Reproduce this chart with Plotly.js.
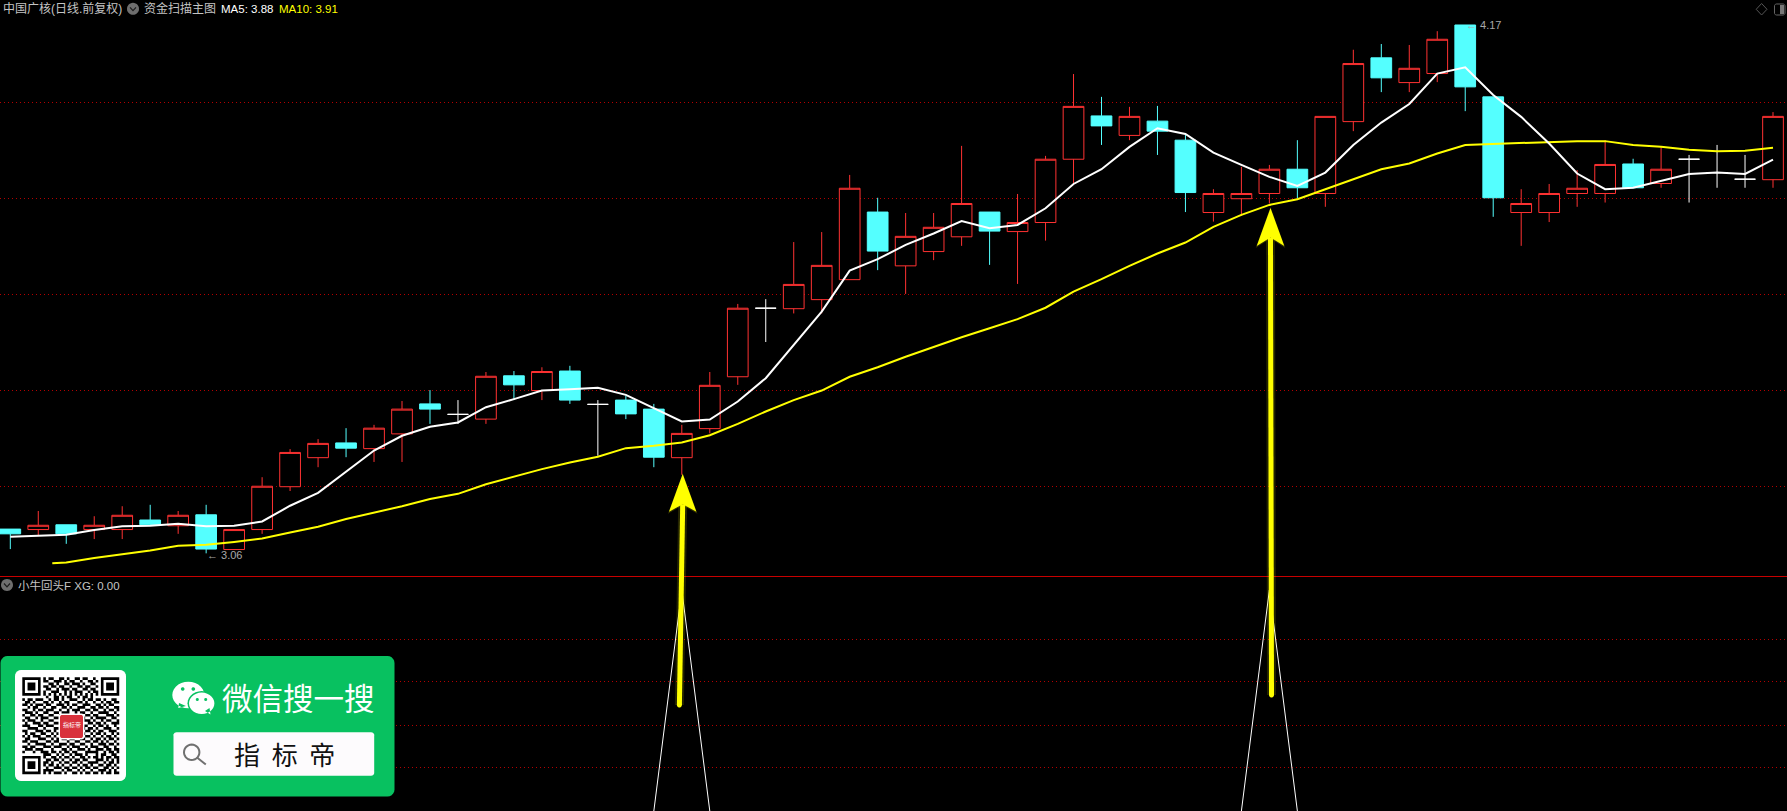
<!DOCTYPE html>
<html><head><meta charset="utf-8">
<script src="https://cdn.plot.ly/plotly-3.0.1.min.js"></script>
<style>html,body{margin:0;padding:0;background:#000;overflow:hidden}</style>
</head><body><div id="chart" style="width:1787px;height:811px"></div>
<script>
const openP = [3.111,3.110,3.120,3.110,3.110,3.130,3.118,3.141,3.068,3.110,3.200,3.261,3.292,3.280,3.311,3.374,3.352,3.342,3.433,3.402,3.443,3.373,3.382,3.363,3.261,3.322,3.431,3.575,3.574,3.593,3.635,3.777,3.664,3.694,3.725,3.777,3.736,3.755,3.888,3.979,3.938,3.968,3.928,3.776,3.805,3.816,3.867,3.816,3.967,4.101,4.049,4.068,4.170,4.019,3.776,3.776,3.816,3.816,3.878,3.837,3.888,3.860,3.846,3.845];
const closeP = [3.101,3.119,3.101,3.119,3.140,3.120,3.140,3.069,3.110,3.201,3.272,3.291,3.281,3.323,3.363,3.363,3.352,3.432,3.414,3.442,3.382,3.373,3.353,3.262,3.312,3.413,3.575,3.575,3.625,3.665,3.827,3.695,3.726,3.745,3.795,3.737,3.755,3.888,3.999,3.958,3.978,3.947,3.818,3.816,3.816,3.867,3.828,3.978,4.089,4.059,4.079,4.140,4.040,3.807,3.795,3.816,3.827,3.877,3.828,3.867,3.888,3.860,3.846,3.978];
const highP = [3.111,3.149,3.120,3.138,3.159,3.162,3.149,3.162,3.110,3.220,3.279,3.300,3.323,3.330,3.380,3.403,3.382,3.441,3.443,3.451,3.454,3.382,3.391,3.374,3.330,3.441,3.584,3.594,3.714,3.735,3.855,3.807,3.775,3.775,3.916,3.777,3.815,3.895,4.067,4.019,3.998,4.000,3.939,3.825,3.872,3.876,3.928,3.978,4.118,4.130,4.128,4.157,4.170,4.019,3.825,3.836,3.865,3.928,3.889,3.914,3.897,3.918,3.897,3.987];
const lowP = [3.069,3.098,3.080,3.090,3.090,3.120,3.101,3.060,3.068,3.101,3.191,3.241,3.262,3.252,3.252,3.332,3.332,3.332,3.382,3.382,3.374,3.265,3.342,3.241,3.225,3.312,3.414,3.504,3.564,3.564,3.635,3.655,3.605,3.676,3.706,3.666,3.626,3.717,3.837,3.918,3.928,3.897,3.777,3.757,3.769,3.795,3.806,3.788,3.947,4.029,4.029,4.050,3.989,3.767,3.706,3.756,3.788,3.797,3.828,3.828,3.797,3.828,3.828,3.828];
const ma5 = [3.095,3.097,3.099,3.109,3.117,3.118,3.122,3.117,3.118,3.127,3.160,3.187,3.232,3.276,3.307,3.326,3.335,3.367,3.384,3.402,3.405,3.408,3.393,3.365,3.337,3.341,3.379,3.428,3.498,3.568,3.654,3.678,3.708,3.732,3.758,3.743,3.750,3.785,3.836,3.867,3.914,3.953,3.941,3.902,3.876,3.851,3.832,3.860,3.918,3.965,4.004,4.068,4.081,4.023,3.977,3.921,3.858,3.825,3.828,3.842,3.857,3.860,3.857,3.887];
const ma10X = [1.5,2,3,4,5,6,7,8,9,10,11,12,13,14,15,16,17,18,19,20,21,22,23,24,25,26,27,28,29,30,31,32,33,34,35,36,37,38,39,40,41,42,43,44,45,46,47,48,49,50,51,52,53,54,55,56,57,58,59,60,61,62,63];
const ma10 = [3.039,3.041,3.050,3.058,3.066,3.076,3.078,3.084,3.091,3.104,3.116,3.132,3.145,3.159,3.174,3.185,3.205,3.221,3.237,3.251,3.263,3.281,3.286,3.293,3.308,3.332,3.358,3.382,3.402,3.431,3.451,3.473,3.494,3.514,3.533,3.552,3.576,3.610,3.636,3.664,3.690,3.713,3.746,3.771,3.792,3.804,3.825,3.846,3.867,3.879,3.900,3.918,3.920,3.921,3.924,3.926,3.926,3.918,3.914,3.908,3.905,3.906,3.912];
const xgX = [23,24,25,null,44,45,46];
const xgY = [0,1,0,null,0,1,0];
const priceGrid = [4.008,3.806,3.604,3.403,3.201];
const xgGrid = [0.195,0.389,0.584,0.778];
const priceRange = [3.01242,4.2225];
const xgRange = [0,1.063];
const idxRange = [-0.368,63.5];
const qrRows = [
"1111111010110011010011011001001111111",
"1000001011001110101100100110101000001",
"1011101000110100110111010011001011101",
"1011101011011011001001101100101011101",
"1011101001100101110110011011001011101",
"1000001010011100101011100101101000001",
"1111111010101010101010101010101111111",
"0000000001001101011001011010000000000",
"1011011100101101001110010110110100110",
"0110100011010010110001101001001011011",
"1101011101100111010110011100110101100",
"0010110010011001101001110011011010011",
"1100101101110010010111001101100101101",
"0111010011001101110010110010011110010",
"1001101100110010001101001101100011101",
"0110010111001101000000010010111100110",
"1011100100110010000000011101001011001",
"0100111011001100000000000110110100111",
"1110001101110010000000011001011010010",
"0011110010001100000000010110100111001",
"1100011101101010000000001101011001110",
"0101100110010110000000110010110100101",
"1010111001101011000011001101001011010",
"0110001110010101101100110010110101101",
"1101110001101100010011001101101010010",
"0010011110010011101100110010011101101",
"1101100011101110010111001011100110010",
"0111011100010001101001110100111011011",
"1000100111011010110110001111100101101",
"0000000011100101001011101000101100110",
"1111111010011010110100110101101011011",
"1000001001101101001011011000111010101",
"1011101011010010110110100111100101101",
"1011101010110101001001011010011011010",
"1011101001001110110110101101100110101",
"1000001011110001011001010010011101010",
"1111111010101110100110101101101011011"];

const W = 1787, H = 811;
const px = v => v / W, py = v => 1 - v / H;
const P = (x, y) => px(x).toFixed(6) + ',' + py(y).toFixed(6);
const poly = pts => 'M' + pts.map(p => P(p[0], p[1])).join('L') + 'Z';
function rr(x0, y0, x1, y1, r) {
  const n = 5, out = [];
  const corners = [[x1 - r, y0 + r, -90], [x1 - r, y1 - r, 0], [x0 + r, y1 - r, 90], [x0 + r, y0 + r, 180]];
  corners.forEach(c => { for (let k = 0; k <= n; k++) { const a = (c[2] + 90 * k / n) * Math.PI / 180; out.push([c[0] + r * Math.cos(a), c[1] + r * Math.sin(a)]); } });
  return poly(out);
}
function ell(cx, cy, rxx, ryy) {
  const out = [];
  for (let k = 0; k < 28; k++) { const a = k / 28 * 2 * Math.PI; out.push([cx + rxx * Math.cos(a), cy + ryy * Math.sin(a)]); }
  return poly(out);
}
const fillS = (path, color, extra) => Object.assign({type: 'path', xref: 'paper', yref: 'paper', layer: 'above', path, fillcolor: color, line: {width: 0}}, extra || {});
const lineS = (x0, y0, x1, y1, color, width) => ({type: 'line', xref: 'paper', yref: 'paper', layer: 'above', x0: px(x0), y0: py(y0), x1: px(x1), y1: py(y1), line: {color, width}});

const shapes = [];
shapes.push(lineS(0, 576.5, W, 576.5, '#c80000', 1));

function arrow(tx, ty, bx, by, hw, baseY, notchY) {
  shapes.push(lineS(tx, notchY, bx, by, 'rgba(255,255,0,0.14)', 9));
  shapes.push(fillS(poly([[tx, ty - 1], [tx + hw + 1, baseY + 2], [tx, notchY + 1], [tx - hw - 1, baseY + 2]]), 'rgba(255,255,0,0.18)'));
  shapes.push(lineS(tx, notchY, bx, by, '#ffff00', 5));
  shapes.push(fillS(ell(bx, by, 2.5, 2.5), '#ffff00'));
  shapes.push(fillS(poly([[tx, ty], [tx + hw, baseY], [tx, notchY], [tx - hw, baseY]]), '#ffff00'));
}
arrow(682.7, 474, 679.4, 705, 13.7, 511.7, 504.3);
arrow(1270.5, 208, 1271.5, 695, 13.8, 246, 237.5);

// card
shapes.push(fillS(rr(0.5, 656, 394.5, 796.5, 7), '#08c160'));
shapes.push(fillS(rr(15, 670, 126, 781, 6), '#ffffff'));
const cell = 2.62, qx = 22.3, qy = 677.3;
let qrPath = '';
qrRows.forEach((row, r) => {
  let c = 0;
  while (c < row.length) {
    if (row[c] === '1') {
      let e = c;
      while (e + 1 < row.length && row[e + 1] === '1') e++;
      const x0 = qx + c * cell, x1 = qx + (e + 1) * cell, y0 = qy + r * cell, y1 = qy + (r + 1) * cell;
      qrPath += poly([[x0, y0], [x1, y0], [x1, y1], [x0, y1]]);
      c = e + 1;
    } else c++;
  }
});
shapes.push(fillS(qrPath, '#000000'));
shapes.push(fillS(rr(58.5, 713.5, 84.5, 739.5, 3), '#ffffff'));
shapes.push(fillS(rr(60, 715, 83, 738, 2), '#d9323c'));

// wechat icon
shapes.push(fillS(ell(188.3, 695, 16, 13.3) + poly([[179, 703], [178.3, 708], [186, 706]]), '#ffffff'));
shapes.push(fillS(ell(201.7, 703.3, 14.2, 12.2), '#08c160'));
shapes.push(fillS(ell(201.7, 703.3, 12.7, 10.7) + poly([[205, 711], [210.5, 714.5], [209.5, 708]]), '#ffffff'));
[[182.7, 689, 1.8], [193.3, 689, 1.8], [197.3, 699.5, 1.5], [205.7, 699.5, 1.5]].forEach(e => shapes.push(fillS(ell(e[0], e[1], e[2], e[2]), '#08c160')));

// search box
shapes.push(fillS(rr(173.5, 732.3, 374.2, 775.7, 3), '#fdfbfd'));
shapes.push({type: 'path', xref: 'paper', yref: 'paper', layer: 'above', path: ell(191.7, 752.3, 7.7, 7.7), fillcolor: 'rgba(0,0,0,0)', line: {color: '#707070', width: 2}});
shapes.push(lineS(197.3, 757.8, 205.8, 764.5, '#707070', 2));

// pane icons
[[133, 8.8], [7, 585]].forEach(c => {
  const cx = c[0];
  shapes.push(fillS(ell(cx, c[1], 6, 6), '#6e6e6e'));
  shapes.push({type: 'path', xref: 'paper', yref: 'paper', layer: 'above', path: 'M' + P(cx - 3, c[1] - 1.5) + 'L' + P(cx, c[1] + 1.8) + 'L' + P(cx + 3, c[1] - 1.5), fillcolor: 'rgba(0,0,0,0)', line: {color: '#1c1c1c', width: 1.2}});
});
// top-right icons
shapes.push({type: 'path', xref: 'paper', yref: 'paper', layer: 'above', path: poly([[1761.6, 3.5], [1767, 9.3], [1761.6, 15], [1756.2, 9.3]]), fillcolor: 'rgba(0,0,0,0)', line: {color: '#555555', width: 1}});
shapes.push({type: 'path', xref: 'paper', yref: 'paper', layer: 'above', path: rr(1774.5, 4, 1785, 15, 2), fillcolor: 'rgba(0,0,0,0)', line: {color: '#666666', width: 1}});
shapes.push(fillS(poly([[1780, 5], [1784, 5], [1784, 14], [1780, 14]]), '#777777'));

const FONT = 'Liberation Sans, Noto Sans CJK SC, sans-serif';
const CJK = 'Noto Sans CJK SC, sans-serif';
const T = (text, x, y, size, color, anchor, fam) => ({text, xref: 'paper', yref: 'paper', x: px(x), y: py(y), xanchor: anchor || 'left', yanchor: 'middle', showarrow: false, borderpad: 0, font: {size, color, family: fam || FONT}});
const annotations = [
  T('中国广核(日线.前复权)', 2, 9, 12, '#c4c4c4'),
  T('资金扫描主图', 143, 9, 12, '#c4c4c4'),
  T('MA5: 3.88', 220, 9, 11.5, '#ffffff'),
  T('MA10: 3.91', 278, 9, 11.5, '#ffff00'),
  T('小牛回头F XG: 0.00', 17, 585, 11.5, '#c4c4c4'),
  T('微信搜一搜', 298, 696.5, 30.5, '#ffffff', 'center', CJK),
  T('指\u00a0\u00a0标\u00a0\u00a0帝', 284.5, 753, 26, '#111111', 'center', CJK),
  T('指标帝', 71.5, 724, 6, '#ffffff', 'center', CJK),
  {text: '← 3.06', xref: 'x', yref: 'y', x: 7, y: 3.06, xanchor: 'left', yanchor: 'middle', yshift: -1.5, showarrow: false, borderpad: 0, font: {size: 11, color: '#a8a8a8', family: FONT}},
  {text: '← 4.17', xref: 'x', yref: 'y', x: 52, y: 4.17, xanchor: 'left', yanchor: 'middle', showarrow: false, borderpad: 0, font: {size: 11, color: '#a8a8a8', family: FONT}}
];

const idx = openP.map((_, i) => i);
const normal = idx.filter(i => openP[i] !== closeP[i]);
const doji = idx.filter(i => openP[i] === closeP[i]);
const pick = (a, ids) => ids.map(i => a[i]);
const traces = [
  {type: 'candlestick', x: normal, open: pick(openP, normal), close: pick(closeP, normal), high: pick(highP, normal), low: pick(lowP, normal),
   increasing: {line: {color: '#ff3232', width: 1}, fillcolor: '#000000'},
   decreasing: {line: {color: '#54ffff', width: 1}, fillcolor: '#54ffff'}, hoverinfo: 'skip', showlegend: false, xaxis: 'x', yaxis: 'y'},
  {type: 'candlestick', x: doji, open: pick(openP, doji), close: pick(closeP, doji), high: pick(highP, doji), low: pick(lowP, doji),
   increasing: {line: {color: '#ffffff', width: 1}, fillcolor: '#ffffff'},
   decreasing: {line: {color: '#ffffff', width: 1}, fillcolor: '#ffffff'}, hoverinfo: 'skip', showlegend: false, xaxis: 'x', yaxis: 'y'},
  {type: 'scatter', mode: 'lines', x: ma10X, y: ma10, line: {color: '#ffff00', width: 2}, hoverinfo: 'skip', showlegend: false, xaxis: 'x', yaxis: 'y'},
  {type: 'scatter', mode: 'lines', x: idx, y: ma5, line: {color: '#ffffff', width: 2}, hoverinfo: 'skip', showlegend: false, xaxis: 'x', yaxis: 'y'},
  {type: 'scatter', mode: 'lines', x: xgX, y: xgY, line: {color: '#ffffff', width: 1}, hoverinfo: 'skip', showlegend: false, xaxis: 'x2', yaxis: 'y2', connectgaps: false}
];
const axisOff = {showticklabels: false, ticks: '', showline: false, zeroline: false, fixedrange: true};
const gridY = {showgrid: true, gridcolor: '#b40000', gridwidth: 1, griddash: '1px,3px', tickmode: 'array'};
const split = (H - 576) / H;
const layout = {
  width: W, height: H, margin: {l: 0, r: 0, t: 0, b: 0, pad: 0},
  paper_bgcolor: '#000000', plot_bgcolor: '#000000', showlegend: false,
  boxmode: 'overlay', boxgap: 0.26, boxgroupgap: 0,
  xaxis: Object.assign({}, axisOff, {range: idxRange, domain: [0, 1], showgrid: false, type: 'linear', rangeslider: {visible: false}, anchor: 'y'}),
  yaxis: Object.assign({}, axisOff, gridY, {range: priceRange, domain: [split, 1], tickvals: priceGrid, anchor: 'x'}),
  xaxis2: Object.assign({}, axisOff, {range: idxRange, domain: [0, 1], showgrid: false, type: 'linear', anchor: 'y2'}),
  yaxis2: Object.assign({}, axisOff, gridY, {range: xgRange, domain: [0, split], tickvals: xgGrid, anchor: 'x2'}),
  shapes, annotations
};
Plotly.newPlot('chart', traces, layout, {displayModeBar: false, staticPlot: true});
</script></body></html>
